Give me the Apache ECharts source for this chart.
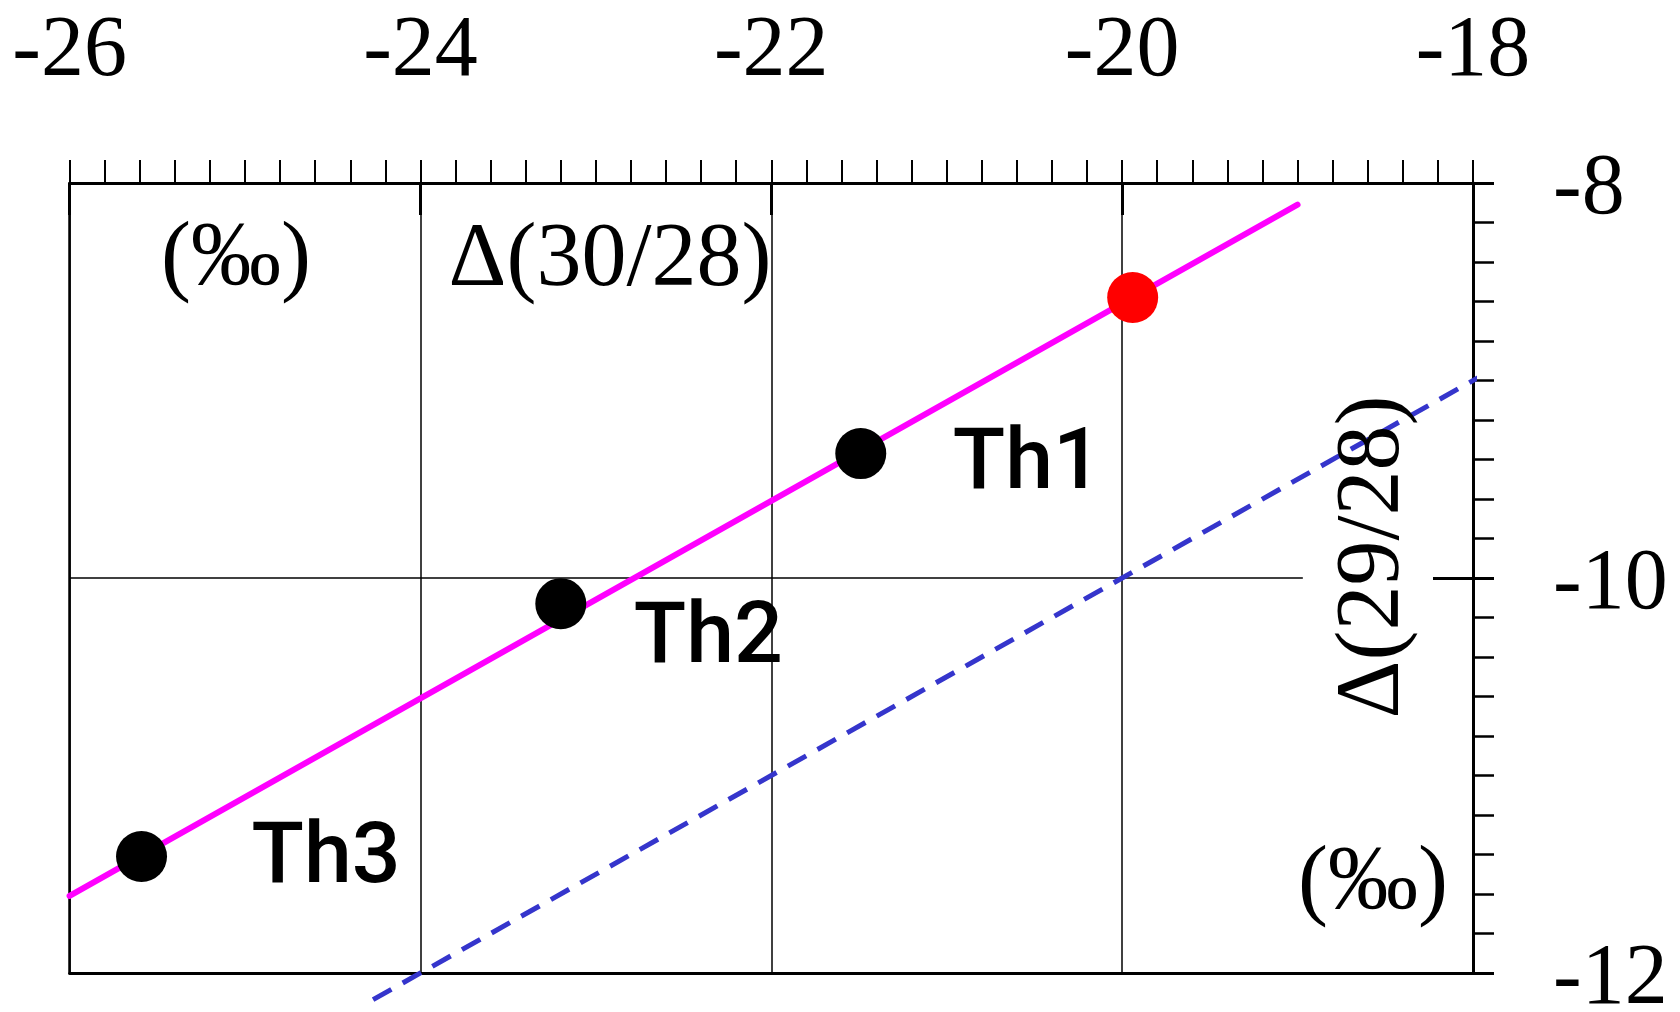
<!DOCTYPE html>
<html>
<head>
<meta charset="utf-8">
<script src="https://cdn.jsdelivr.net/npm/echarts@6/dist/echarts.min.js"></script>
<style>
  html, body { margin: 0; padding: 0; background: #ffffff; }
  #chart { width: 1680px; height: 1012px; }
</style>
</head>
<body>
<div id="chart"></div>
<script>
// Axis ranges and ticks
const xRange = [-26, -18];
const yRange = [-12, -8];
const xStep = 2;
const yStep = 2;

// Samples on the mass-dependent fractionation line
const sampleNames = ['Th1', 'Th2', 'Th3'];
const sampleD30 = [-21.49, -23.20, -25.59];
const sampleD29 = [-9.37, -10.13, -11.41];

// Reference point (red)
const refD30 = [-19.94];
const refD29 = [-8.58];

// Fitted line through the samples
const fitD30 = [-26.0, -19.0];
const fitD29 = [-11.61, -8.11];

// Dashed reference line (slope 1/2 through -20 / -10)
const refLineD30 = [-24.27, -17.85];
const refLineD29 = [-12.135, -8.925];

// Horizontal guide at -10
const guideD30 = [-26.0, -18.97];
const guideD29 = [-10.0, -10.0];

const pairs = (xs, ys) => xs.map((x, i) => [x, ys[i]]);

// Label placement for each sample name
const labelOffsets = { Th1: [92, 13], Th2: [73, 37], Th3: [110, 4] };

const SERIF = '"Liberation Serif", "Times New Roman", serif';
const LABEL_FONT = 'Roboto, "Noto Sans", sans-serif';

const chart = echarts.init(document.getElementById('chart'), null, { renderer: 'canvas' });

const gridBox = { left: 69.6, top: 183, right: 207, bottom: 39, containLabel: false, outerBoundsMode: 'none' };

chart.setOption({
  animation: false,
  backgroundColor: '#ffffff',
  grid: [Object.assign({}, gridBox), Object.assign({}, gridBox)],
  xAxis: [
    {
      gridIndex: 0, type: 'value', position: 'top',
      min: xRange[0], max: xRange[1], interval: xStep,
      axisLine: { show: true, lineStyle: { color: '#000', width: 3 } },
      axisTick: { show: true, inside: false, length: 23, lineStyle: { color: '#000', width: 2 } },
      minorTick: { show: true, splitNumber: 10, length: 23, lineStyle: { color: '#000', width: 2 } },
      axisLabel: { show: true, margin: 88, fontSize: 86, fontFamily: SERIF, color: '#000' },
      splitLine: { show: true, lineStyle: { color: '#000', width: 1.5 } },
      minorSplitLine: { show: false }
    },
    {
      gridIndex: 0, type: 'value', position: 'bottom',
      min: xRange[0], max: xRange[1], interval: xStep,
      axisLine: { show: true, lineStyle: { color: '#000', width: 3 } },
      axisTick: { show: false }, axisLabel: { show: false }, splitLine: { show: false }
    },
    {
      gridIndex: 1, type: 'value', position: 'top',
      min: xRange[0], max: xRange[1], interval: xStep,
      axisLine: { show: false },
      axisTick: { show: true, inside: true, length: 32, lineStyle: { color: '#000', width: 3 } },
      axisLabel: { show: false }, splitLine: { show: false }
    }
  ],
  yAxis: [
    {
      gridIndex: 0, type: 'value', position: 'right',
      min: yRange[0], max: yRange[1], interval: yStep,
      axisLine: { show: true, lineStyle: { color: '#000', width: 3 } },
      axisTick: { show: true, inside: false, length: 21, lineStyle: { color: '#000', width: 3 } },
      minorTick: { show: true, splitNumber: 10, length: 21, lineStyle: { color: '#000', width: 2.5 } },
      axisLabel: {
        show: true, margin: 80, color: '#000',
        // a thin spacer line above the value nudges each label slightly below its tick
        formatter: (v) => '{s| }\n{v|' + v + '}',
        rich: {
          s: { fontSize: 1, lineHeight: 14 },
          v: { fontSize: 86, lineHeight: 86, fontFamily: SERIF, color: '#000' }
        }
      },
      splitLine: { show: false }
    },
    {
      gridIndex: 0, type: 'value', position: 'left',
      min: yRange[0], max: yRange[1], interval: yStep,
      axisLine: { show: true, lineStyle: { color: '#000', width: 2.5 } },
      axisTick: { show: false }, axisLabel: { show: false }, splitLine: { show: false }
    },
    {
      gridIndex: 1, type: 'value', position: 'right',
      min: yRange[0], max: yRange[1], interval: yStep,
      axisLine: { show: false },
      axisTick: { show: true, inside: true, length: 40, lineStyle: { color: '#000', width: 3 } },
      axisLabel: { show: false }, splitLine: { show: false }
    }
  ],
  series: [
    {
      name: 'guide', type: 'line', xAxisIndex: 0, yAxisIndex: 0,
      data: pairs(guideD30, guideD29), symbol: 'none', silent: true, z: 1,
      lineStyle: { color: '#000', width: 1.5 }
    },
    {
      name: 'reference slope', type: 'line', xAxisIndex: 0, yAxisIndex: 0,
      data: pairs(refLineD30, refLineD29), symbol: 'none', clip: false, z: 2,
      lineStyle: { color: '#3535CC', width: 5, type: [21, 13] }
    },
    {
      name: 'fit', type: 'line', xAxisIndex: 0, yAxisIndex: 0,
      data: pairs(fitD30, fitD29), symbol: 'none', clip: false, z: 3,
      lineStyle: { color: '#FF00FF', width: 6, cap: 'round' }
    },
    {
      name: 'samples', type: 'scatter', xAxisIndex: 0, yAxisIndex: 0, z: 4,
      symbolSize: 51,
      itemStyle: { color: '#000', opacity: 1 },
      data: sampleNames.map((n, i) => ({
        name: n, value: [sampleD30[i], sampleD29[i]],
        label: {
          show: true, position: 'inside', formatter: n,
          offset: labelOffsets[n],
          align: 'left', verticalAlign: 'middle',
          fontSize: 86, fontFamily: LABEL_FONT, fontWeight: 500, color: '#000'
        }
      }))
    },
    {
      name: 'reference', type: 'scatter', xAxisIndex: 0, yAxisIndex: 0, z: 4,
      symbolSize: 51, itemStyle: { color: '#FF0000', opacity: 1 },
      data: pairs(refD30, refD29)
    }
  ],
  graphic: [
    { type: 'text', x: 236, y: 260, z: 10,
      style: { text: '(‰)', fontSize: 90, fontFamily: SERIF, fill: '#000', align: 'center', verticalAlign: 'middle' } },
    { type: 'text', x: 610, y: 261, z: 10,
      style: { text: 'Δ(30/28)', fontSize: 90, fontFamily: SERIF, fill: '#000', align: 'center', verticalAlign: 'middle' } },
    { type: 'text', x: 1374, y: 557, rotation: Math.PI / 2, z: 10,
      style: { text: 'Δ(29/28)', fontSize: 90, fontFamily: SERIF, fill: '#000', align: 'center', verticalAlign: 'middle' } },
    { type: 'text', x: 1373, y: 884, z: 10,
      style: { text: '(‰)', fontSize: 90, fontFamily: SERIF, fill: '#000', align: 'center', verticalAlign: 'middle' } }
  ]
});
</script>
</body>
</html>
